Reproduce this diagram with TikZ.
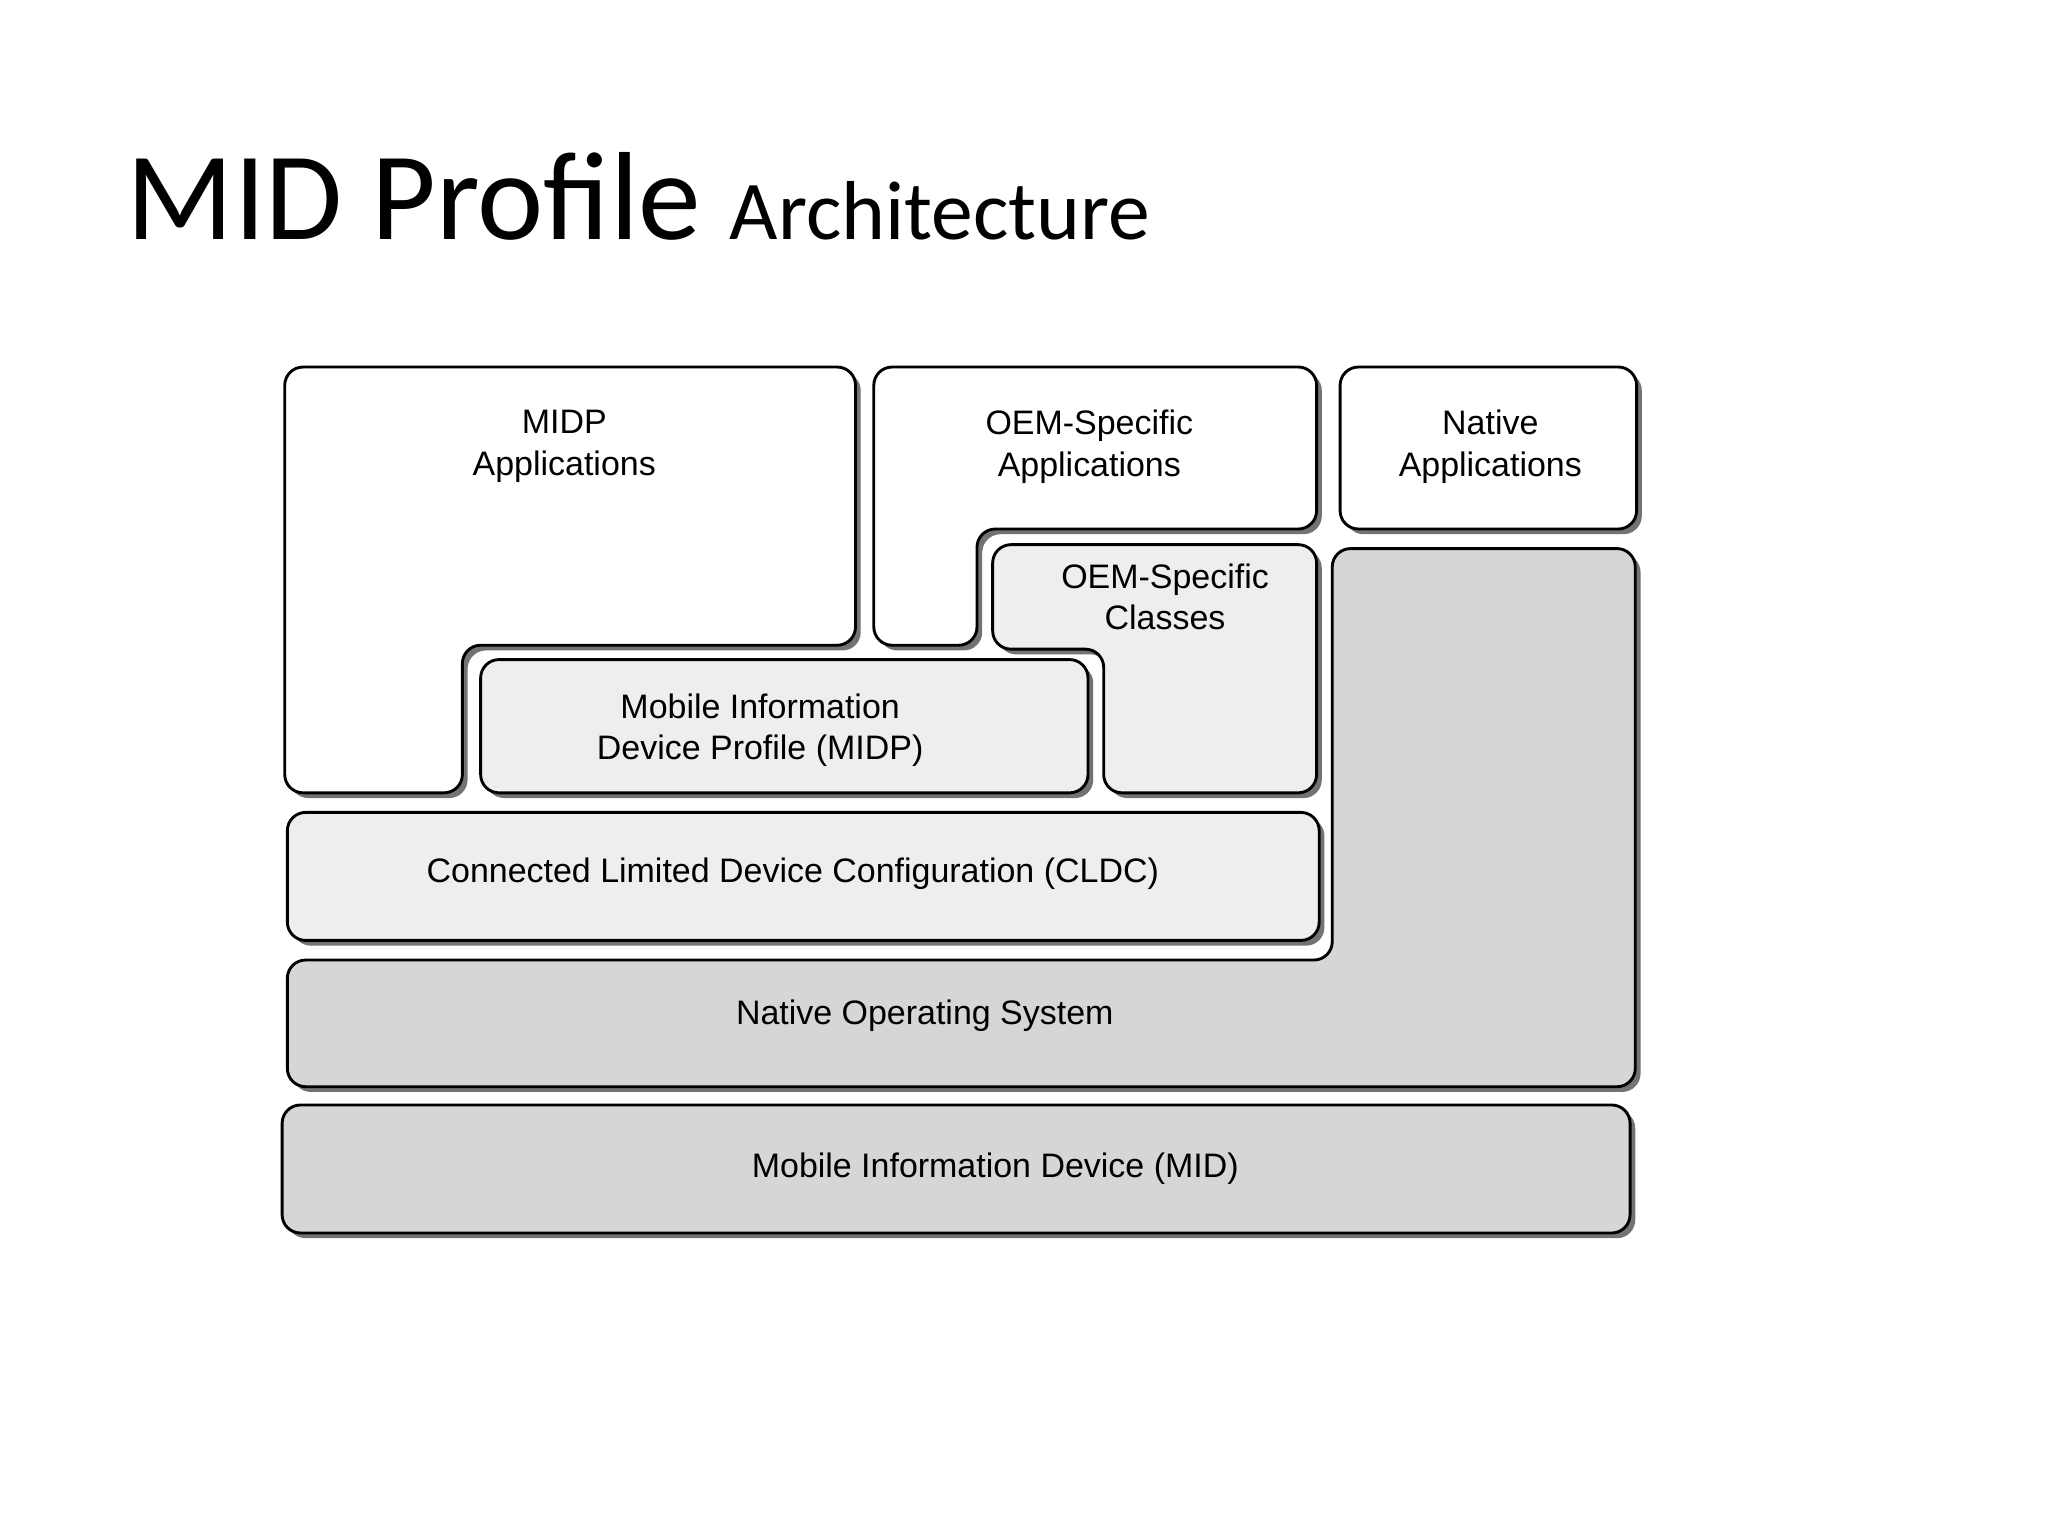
\documentclass[tikz,border=0pt]{standalone}
\usepackage{fontspec}
\setmainfont{Liberation Sans}
\newfontfamily\titlefont{Carlito}
\usetikzlibrary{shadows}
\definecolor{lite}{HTML}{EEEEEE}
\definecolor{mid}{HTML}{D6D6D6}
\begin{document}
\begin{tikzpicture}[x=1pt,y=-1pt,
  blk/.style={draw=black,line width=2.2pt,rounded corners=14pt,
     drop shadow={shadow xshift=4pt,shadow yshift=-4pt,fill=black!55,opacity=1}},
  lbl/.style={font=\fontsize{26}{32}\selectfont,align=center}]
\useasboundingbox (0,0) rectangle (1568,1176);
\node[anchor=base west,inner sep=0] (title) at (97,183)
  {\titlefont\fontsize{96}{110}\selectfont MID Profile \fontsize{64}{70}\selectfont Architecture};
% MID
\draw[blk,fill=mid] (216,846) rectangle (1248,944);
\node[lbl] (mid) at (762,895) {Mobile Information Device (MID)};
% Native OS
\draw[blk,fill=mid] (220,735) -- (1020,735) -- (1020,420) -- (1252,420) -- (1252,832) -- (220,832) -- cycle;
\node[lbl] (os) at (708,778) {Native Operating System};
% CLDC
\draw[blk,fill=lite] (220,622) rectangle (1010,720);
\node[lbl] (cldc) at (607,669) {Connected Limited Device Configuration (CLDC)};
% MIDP Apps
\draw[blk,fill=white] (218,281) -- (655,281) -- (655,494) -- (354,494) -- (354,607) -- (218,607) -- cycle;
\node[lbl] (midpa) at (432,342) {MIDP\\Applications};
% OEM apps
\draw[blk,fill=white] (669,281) -- (1008,281) -- (1008,405) -- (748,405) -- (748,494) -- (669,494) -- cycle;
\node[lbl] (oema) at (834,342) {OEM-Specific\\Applications};
% OEM classes
\draw[blk,fill=lite] (760,417) -- (1008,417) -- (1008,607) -- (845,607) -- (845,497) -- (760,497) -- cycle;
\node[lbl] (oemc) at (892,457) {OEM-Specific\\Classes};
% MIDP
\draw[blk,fill=lite] (368,505) rectangle (833,607);
\node[lbl] (midp) at (582,559) {Mobile Information\\Device Profile (MIDP)};
% Native apps
\draw[blk,fill=white] (1026,281) rectangle (1253,405);
\node[lbl] (na) at (1141,342) {Native\\Applications};
\end{tikzpicture}
\end{document}
